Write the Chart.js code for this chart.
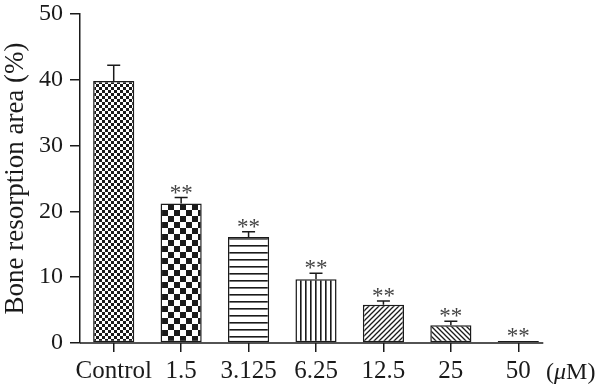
<!DOCTYPE html>
<html>
<head>
<meta charset="utf-8">
<script src="https://cdn.jsdelivr.net/npm/chart.js@4/dist/chart.umd.min.js"></script>
<style>
  html, body { margin: 0; padding: 0; background: #fff; }
  #wrap { width: 600px; height: 388px; }
</style>
</head>
<body>
<div id="wrap"><canvas id="chart" width="600" height="388"></canvas></div>
<script>
// datos
const categories = ["Control", "1.5", "3.125", "6.25", "12.5", "25", "50"];
const values = [39.8, 21.2, 16.1, 9.7, 5.8, 2.7, 0.3];
const errors = [2.4, 0.9, 0.8, 0.9, 0.6, 0.6, 0];
const marks = ["", "**", "**", "**", "**", "**", "**"];
const yTicks = [0, 10, 20, 30, 40, 50];

const FONT = "'Liberation Serif', 'DejaVu Serif', serif";
const INK = "#1a1a1a";

// patrones de relleno para cada barra
function makePattern(size, draw) {
  const c = document.createElement("canvas");
  c.width = size;
  c.height = size;
  const g = c.getContext("2d");
  g.fillStyle = "#fff";
  g.fillRect(0, 0, size, size);
  g.fillStyle = INK;
  g.strokeStyle = INK;
  draw(g, size);
  return c.getContext("2d").createPattern(c, "repeat");
}

const patterns = [
  makePattern(6, (g) => { g.fillRect(0, 0, 3, 3); g.fillRect(3, 3, 3, 3); }),
  makePattern(12, (g) => { g.fillRect(0, 0, 6, 6); g.fillRect(6, 6, 6, 6); }),
  makePattern(7, (g) => { g.fillRect(0, 0, 7, 1.6); }),
  makePattern(5, (g) => { g.fillRect(0, 0, 1.6, 5); }),
  makePattern(5, (g) => {
    g.lineWidth = 1.3;
    g.beginPath();
    g.moveTo(-1, 6); g.lineTo(6, -1);
    g.moveTo(-1, 1); g.lineTo(1, -1);
    g.moveTo(4, 6); g.lineTo(6, 4);
    g.stroke();
  }),
  makePattern(5, (g) => {
    g.lineWidth = 1.3;
    g.beginPath();
    g.moveTo(-1, -1); g.lineTo(6, 6);
    g.moveTo(4, -1); g.lineTo(6, 1);
    g.moveTo(-1, 4); g.lineTo(1, 6);
    g.stroke();
  }),
  makePattern(5, (g) => { g.fillRect(0, 0, 1.6, 5); }),
];

// barras de error, asteriscos y unidad del eje x
const extras = {
  id: "extras",
  afterDatasetsDraw(chart) {
    const { ctx, scales } = chart;
    const x = scales.x, y = scales.y;
    const base = y.getPixelForValue(0);
    ctx.save();

    // línea del eje x
    ctx.strokeStyle = INK;
    ctx.lineWidth = 1.5;
    ctx.beginPath();
    ctx.moveTo(chart.chartArea.left, base);
    ctx.lineTo(x.getPixelForValue(categories.length - 1) + 25, base);
    ctx.stroke();

    values.forEach((v, i) => {
      const cx = x.getPixelForValue(i);
      const top = y.getPixelForValue(v + errors[i]);
      if (errors[i] > 0) {
        ctx.beginPath();
        ctx.moveTo(cx, y.getPixelForValue(v));
        ctx.lineTo(cx, top);
        ctx.moveTo(cx - 6.5, top);
        ctx.lineTo(cx + 6.5, top);
        ctx.stroke();
      }
      if (marks[i]) {
        ctx.fillStyle = "#444";
        ctx.font = "23px " + FONT;
        ctx.textAlign = "center";
        ctx.textBaseline = "alphabetic";
        ctx.fillText(marks[i], cx, top + 2);
      }
    });

    // (μM)
    ctx.fillStyle = INK;
    ctx.textAlign = "left";
    ctx.textBaseline = "alphabetic";
    let tx = 546;
    const ty = 379;
    ctx.font = "24px " + FONT;
    ctx.fillText("(", tx, ty);
    tx += ctx.measureText("(").width;
    ctx.font = "italic 24px " + FONT;
    ctx.fillText("μ", tx, ty);
    tx += ctx.measureText("μ").width;
    ctx.font = "24px " + FONT;
    ctx.fillText("M)", tx, ty);
    ctx.restore();
  },
};

new Chart(document.getElementById("chart"), {
  type: "bar",
  data: {
    labels: categories,
    datasets: [
      {
        data: values,
        backgroundColor: patterns,
        borderColor: INK,
        borderWidth: 1.5,
        borderSkipped: false,
        barPercentage: 0.61,
        categoryPercentage: 1,
      },
    ],
  },
  options: {
    responsive: false,
    maintainAspectRatio: false,
    animation: false,
    layout: { padding: { left: 0, right: 48, top: 14, bottom: 0 } },
    plugins: { legend: { display: false }, tooltip: { enabled: false } },
    scales: {
      x: {
        offset: true,
        border: { display: false },
        grid: { display: true, drawOnChartArea: false, offset: false, tickLength: 9, color: INK, lineWidth: 1.5 },
        ticks: { color: INK, font: { family: FONT, size: 25 }, padding: 4, maxRotation: 0, autoSkip: false },
        afterFit(scale) { scale.height = 45; },
      },
      y: {
        min: 0,
        max: 50,
        afterBuildTicks(scale) { scale.ticks = yTicks.map((v) => ({ value: v })); },
        border: { display: true, color: INK, width: 1.5 },
        grid: { display: true, drawOnChartArea: false, tickLength: 10, color: INK, lineWidth: 1.5 },
        ticks: { color: INK, font: { family: FONT, size: 24 }, padding: 7 },
        title: { display: true, text: "Bone resorption area (%)", color: INK, font: { family: FONT, size: 27 }, padding: 0 },
        afterFit(scale) {
          scale.width = 80;
          scale.paddingTop = 0;
          scale.paddingBottom = 0;
        },
      },
    },
  },
  plugins: [extras],
});
</script>
</body>
</html>
